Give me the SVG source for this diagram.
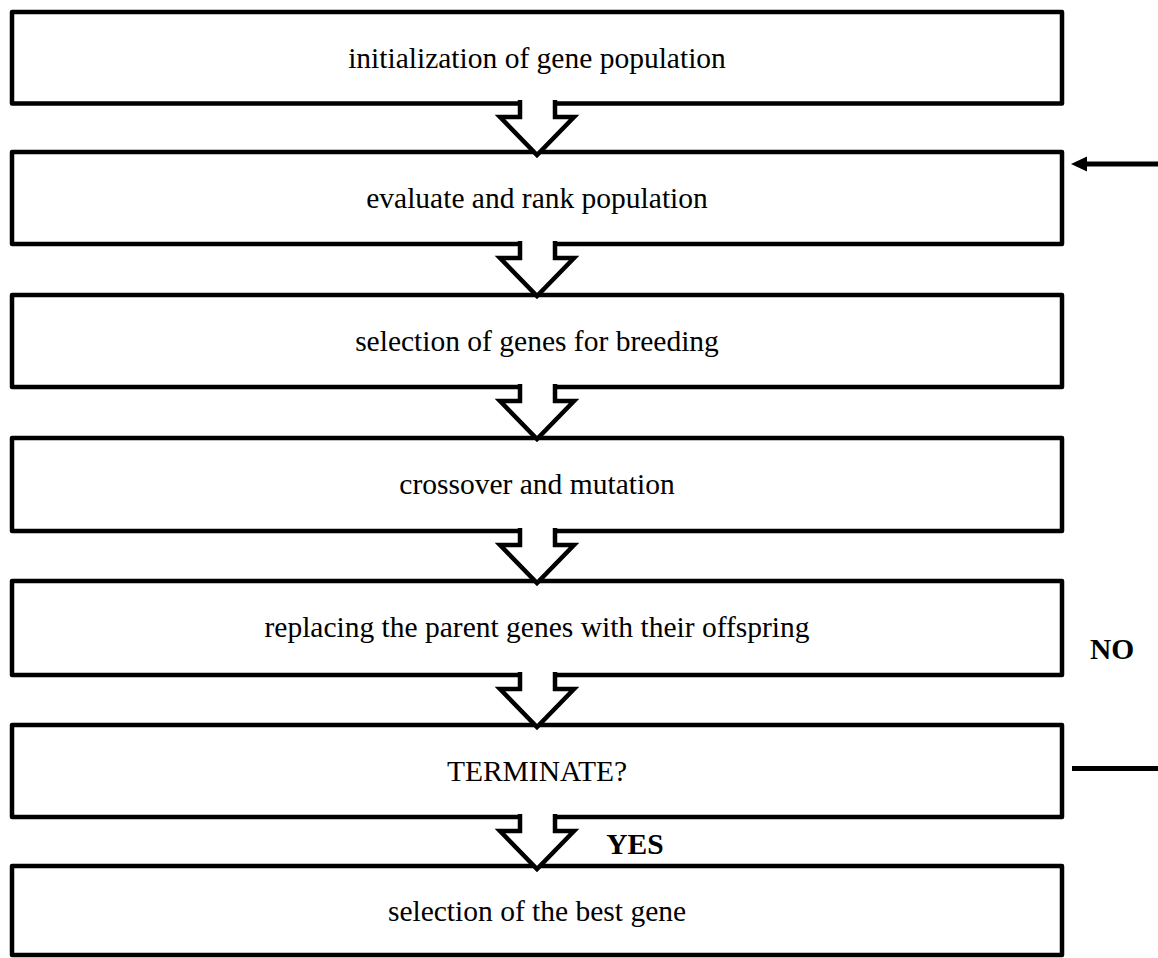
<svg xmlns="http://www.w3.org/2000/svg" width="1158" height="958" viewBox="0 0 1158 958">
<defs>
<style>
.box{fill:#fff;stroke:#000;stroke-width:4.5;stroke-linejoin:round}
.blk{fill:#fff;stroke:#000;stroke-width:4.5;stroke-linejoin:miter}
.t{font-family:"Liberation Serif","Times New Roman",serif;font-size:29.5px;fill:#000;text-anchor:middle}
.b{font-weight:bold}
.ln{stroke:#000;stroke-width:5;fill:none}
</style>
<marker id="ah" viewBox="0 0 16 16" refX="1" refY="8" markerWidth="16" markerHeight="16" markerUnits="userSpaceOnUse" orient="auto">
<path d="M16,0 L0,8 L16,16 L12,8 Z" fill="#000"/>
</marker>
</defs>
<rect width="1158" height="958" fill="#fff"/>
<g id="n1"><rect class="box" x="12" y="12" width="1050" height="91.5"/><text class="t" x="537" y="67.7">initialization of gene population</text></g>
<g id="n2"><rect class="box" x="12" y="152" width="1050" height="92"/><text class="t" x="537" y="208">evaluate and rank population</text></g>
<g id="n3"><rect class="box" x="12" y="295" width="1050" height="92"/><text class="t" x="537" y="351">selection of genes for breeding</text></g>
<g id="n4"><rect class="box" x="12" y="438" width="1050" height="93"/><text class="t" x="537" y="494">crossover and mutation</text></g>
<g id="n5"><rect class="box" x="12" y="581" width="1050" height="94"/><text class="t" x="537" y="637">replacing the parent genes with their offspring</text></g>
<g id="n6"><rect class="box" x="12" y="725" width="1050" height="92"/><text class="t" x="537" y="781">TERMINATE?</text></g>
<g id="n7"><rect class="box" x="12" y="866" width="1050" height="89"/><text class="t" x="537" y="921">selection of the best gene</text></g>
<g id="connectors">
<path class="blk" d="M520,100 V117 H500 L537,155 L574,117 H555 V100"/>
<path class="blk" d="M520,241 V258 H500 L537,296 L574,258 H555 V241"/>
<path class="blk" d="M520,384 V401 H500 L537,439 L574,401 H555 V384"/>
<path class="blk" d="M520,528 V545 H500 L537,583 L574,545 H555 V528"/>
<path class="blk" d="M520,672 V689 H500 L537,727 L574,689 H555 V672"/>
<path class="blk" d="M520,814 V831 H500 L537,869 L574,831 H555 V814"/>
<line class="ln" x1="1158" y1="164" x2="1085" y2="164"/>
<path d="M1071,164 L1087,156.5 L1087,171.5 Z" fill="#000"/>
<line class="ln" x1="1072" y1="768.5" x2="1158" y2="768.5"/>
<text class="t b" x="1112" y="659">NO</text>
<text class="t b" x="635" y="854">YES</text>
</g>
</svg>
